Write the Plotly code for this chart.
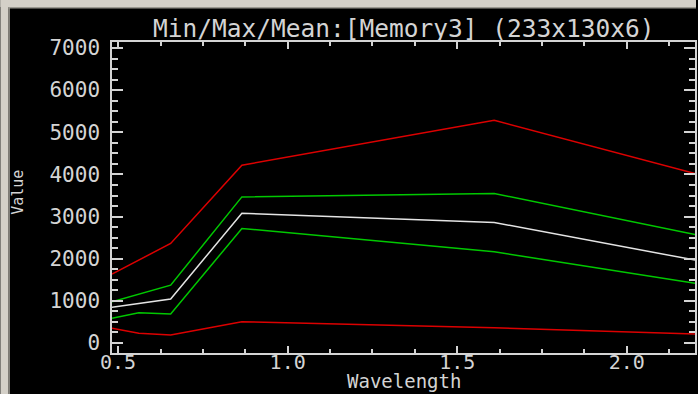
import plotly.graph_objects as go

# Data
wavelength = [0.482, 0.561, 0.655, 0.865, 1.609, 2.201]
max_vals = [1635, 1975, 2363, 4218, 5284, 4021]
plus_std = [979, 1165, 1374, 3467, 3547, 2576]
mean_vals = [846, 938, 1043, 3080, 2860, 1967]
minus_std = [585, 718, 687, 2718, 2164, 1415]
min_vals = [348, 230, 190, 505, 363, 213]

x_ticks = [0.5, 1.0, 1.5, 2.0]
x_tick_labels = ["0.5", "1.0", "1.5", "2.0"]
y_ticks = [0, 1000, 2000, 3000, 4000, 5000, 6000, 7000]
y_tick_labels = ["0", "1000", "2000", "3000", "4000", "5000", "6000", "7000"]

title_text = "Min/Max/Mean:[Memory3] (233x130x6)"

RED = "#dc0000"
GREEN = "#00c800"
WHITE = "#e4e4e4"
FG = "#d4d4d4"
FONT = "DejaVu Sans Mono"

W, H = 698, 394
L, R, T, B = 112, 1, 42, 41
pw, ph = W - L - R, H - T - B

def px(xp):
    return (xp - L) / pw

def py(yp):
    return (H - B - yp) / ph

fig = go.Figure()
for vals, col in [(min_vals, RED), (minus_std, GREEN), (mean_vals, WHITE),
                  (plus_std, GREEN), (max_vals, RED)]:
    fig.add_trace(go.Scatter(x=wavelength, y=vals, mode="lines",
                             line=dict(color=col, width=1.5), showlegend=False))

axis_common = dict(showgrid=False, zeroline=False, showline=True, linecolor=FG,
                   linewidth=1.5, mirror="ticks", ticks="inside", tickcolor=FG,
                   tickwidth=1.5)

fig.update_xaxes(range=[0.482, 2.201], tickvals=x_ticks, ticktext=x_tick_labels,
                 ticklen=7, ticklabelstandoff=-10,
                 tickfont=dict(family=FONT, size=20, color=FG),
                 minor=dict(ticks="inside", dtick=0.125, tick0=0.5, ticklen=4,
                            tickcolor=FG, tickwidth=1.5),
                 **axis_common)
fig.update_yaxes(range=[-237, 7142], tickvals=y_ticks, ticktext=y_tick_labels,
                 ticklen=11, ticklabelstandoff=6,
                 tickfont=dict(family=FONT, size=21, color=FG),
                 minor=dict(ticks="inside", dtick=250, tick0=0, ticklen=6,
                            tickcolor=FG, tickwidth=1.5),
                 **axis_common)

fig.add_annotation(text=title_text, xref="paper", yref="paper", x=0.5, y=py(28),
                   xanchor="center", yanchor="middle", showarrow=False,
                   font=dict(family=FONT, size=24.5, color=FG))
fig.add_annotation(text="Wavelength", xref="paper", yref="paper", x=0.5, y=py(381),
                   xanchor="center", yanchor="middle", showarrow=False,
                   font=dict(family=FONT, size=19, color=FG))
fig.add_annotation(text="Value", xref="paper", yref="paper", x=px(17.5), y=py(192),
                   xanchor="center", yanchor="middle", showarrow=False, textangle=-90,
                   font=dict(family=FONT, size=15, color=FG))

# window frame strips (top and left)
fig.add_shape(type="rect", xref="paper", yref="paper", x0=px(0), x1=px(8),
              y0=py(H), y1=py(0), fillcolor="#d4d0c8", line_width=0, layer="above")
fig.add_shape(type="rect", xref="paper", yref="paper", x0=px(0), x1=px(W),
              y0=py(7), y1=py(0), fillcolor="#d4d0c8", line_width=0, layer="above")
fig.add_shape(type="rect", xref="paper", yref="paper", x0=px(8), x1=px(9.5),
              y0=py(H), y1=py(7), fillcolor="#9a9890", line_width=0, layer="above")
fig.add_shape(type="rect", xref="paper", yref="paper", x0=px(8), x1=px(W),
              y0=py(8.5), y1=py(7), fillcolor="#9a9890", line_width=0, layer="above")

fig.update_layout(width=W, height=H, margin=dict(l=L, r=R, t=T, b=B),
                  paper_bgcolor="black", plot_bgcolor="black")

fig.write_html("out.html")
